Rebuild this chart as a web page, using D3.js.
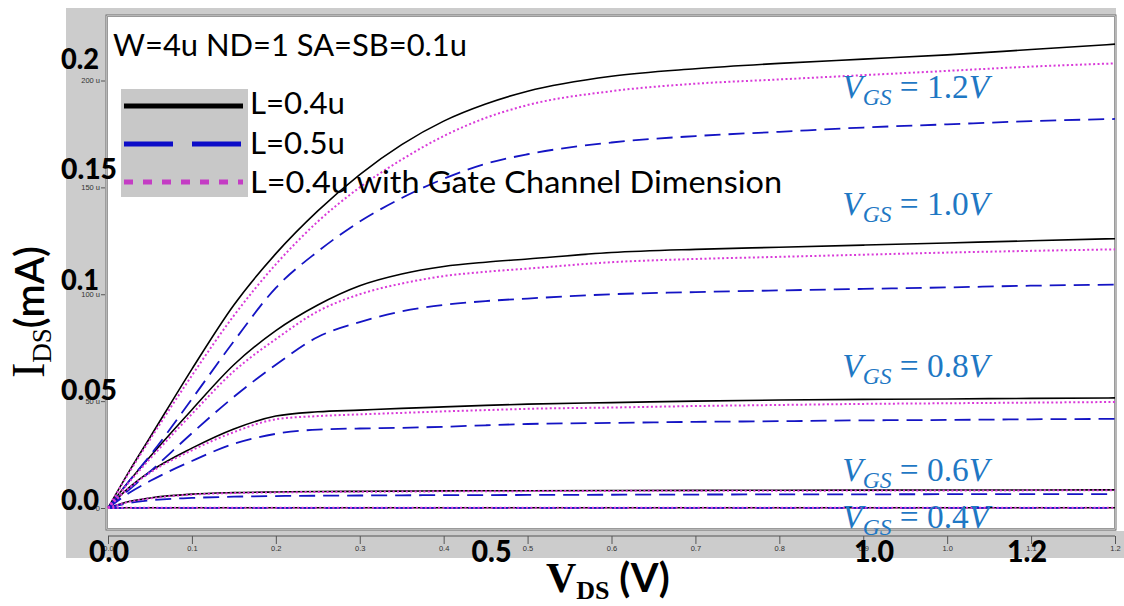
<!DOCTYPE html>
<html>
<head>
<meta charset="utf-8">
<script src="https://cdn.jsdelivr.net/npm/d3@7"></script>
<style>
  html, body { margin: 0; padding: 0; background: #ffffff; }
  svg { display: block; }
</style>
</head>
<body>
<svg id="chart" width="1124" height="606"></svg>
<script>
// Drain voltage sweep (V)
const vds = [0, 0.025, 0.05, 0.1, 0.15, 0.2, 0.25, 0.3, 0.35, 0.4, 0.45, 0.5, 0.6, 0.7, 0.8, 0.9, 1.0, 1.1, 1.2];

// Gate voltages (V)
const vgsLevels = [1.2, 1.0, 0.8, 0.6, 0.4];

// Drain current (uA), L = 0.4u
const idsL04_12 = [0, 17, 33, 65, 95, 119, 139, 156, 170, 181, 189, 195, 202, 205.5, 208, 210, 212, 214.5, 217];
const idsL04_10 = [0, 12.5, 24, 46, 67, 83, 95, 104, 109.5, 113, 115, 116.5, 119.5, 121, 122, 123, 124, 125, 126];
const idsL04_08 = [0, 9.5, 17, 28, 37, 43, 45, 45.8, 46.6, 47.3, 48, 48.6, 49.3, 50, 50.5, 50.8, 51, 51.3, 51.5];
const idsL04_06 = [0, 3, 4.7, 6.5, 7.2, 7.5, 7.7, 7.8, 7.9, 8, 8.05, 8.1, 8.2, 8.25, 8.3, 8.35, 8.4, 8.45, 8.5];
const idsL04_04 = [0, 0.1, 0.1, 0.1, 0.1, 0.1, 0.1, 0.1, 0.1, 0.1, 0.1, 0.1, 0.1, 0.1, 0.1, 0.1, 0.1, 0.1, 0.1];

// Drain current (uA), L = 0.5u
const idsL05_12 = [0, 12.5, 24.5, 51, 78, 103, 120, 134, 145, 154, 161, 165.5, 171, 174, 176, 178, 179.5, 181, 182];
const idsL05_10 = [0, 8.5, 17, 35, 52, 67, 80, 87, 92, 95, 96.8, 98, 100, 101, 101.8, 102.5, 103.2, 104, 104.5];
const idsL05_08 = [0, 7, 12.6, 22, 30, 34.7, 36.7, 37.2, 37.5, 38, 38.7, 39.3, 39.8, 40.3, 40.6, 41, 41.2, 41.5, 41.7];
const idsL05_06 = [0, 2.3, 3.6, 4.7, 5.3, 5.6, 5.75, 5.85, 5.95, 6.0, 6.05, 6.1, 6.2, 6.3, 6.35, 6.4, 6.45, 6.5, 6.5];
const idsL05_04 = [0, 0.1, 0.1, 0.1, 0.1, 0.1, 0.1, 0.1, 0.1, 0.1, 0.1, 0.1, 0.1, 0.1, 0.1, 0.1, 0.1, 0.1, 0.1];

// Drain current (uA), L = 0.4u with gate channel dimension
const idsGcd_12 = [0, 16.5, 32, 62, 90, 114, 134, 150, 163, 174, 182.5, 188.5, 195, 198.5, 200.5, 202.5, 204.5, 206.5, 208];
const idsGcd_10 = [0, 12, 23, 44, 64, 79, 92, 100, 105, 108.5, 110.5, 112, 115, 116.5, 117.5, 118.5, 119.5, 120.3, 121];
const idsGcd_08 = [0, 9.3, 16.5, 27, 35.5, 41.5, 43, 43.8, 44.5, 45.2, 45.8, 46.4, 47, 47.7, 48.2, 48.7, 49, 49.3, 49.6];
const idsGcd_06 = [0, 2.9, 4.5, 6.3, 7.0, 7.3, 7.5, 7.6, 7.7, 7.8, 7.85, 7.9, 8.0, 8.05, 8.1, 8.15, 8.2, 8.25, 8.3];
const idsGcd_04 = [0, 0.1, 0.1, 0.1, 0.1, 0.1, 0.1, 0.1, 0.1, 0.1, 0.1, 0.1, 0.1, 0.1, 0.1, 0.1, 0.1, 0.1, 0.1];

// Legend entries
const legendLabels = ["L=0.4u", "L=0.5u", "L=0.4u with Gate Channel Dimension"];

// Axis tick labels
const yTickValues = [0, 50, 100, 150, 200];           // uA
const yBigLabels = ["0.0", "0.05", "0.1", "0.15", "0.2"]; // mA
const yBigValues = [0, 0.05, 0.1, 0.15, 0.2];
const xBigLabels = ["0.0", "0.5", "1.0", "1.2"];
const xBigValues = [0, 0.5, 1.0, 1.2];

// Annotation anchors (current level in uA of each V_GS caption baseline)
const vgsCaptionIds = [192, 137, 61.3, 12.6, -9.4];

// ---------------------------------------------------------------------
const svg = d3.select("#chart");

const plot = { left: 106, top: 15, right: 1116, bottom: 530 };

const x = d3.scaleLinear().domain([0, 1.2]).range([108, 1115]);
const y = d3.scaleLinear().domain([0, 200]).range([508, 80.5]);

// gray panel behind the plot
svg.append("rect").attr("x", 66).attr("y", 8).attr("width", 1050).attr("height", 550).attr("fill", "#cccccc");
svg.append("rect").attr("x", 66).attr("y", 531).attr("width", 1058).attr("height", 27).attr("fill", "#cccccc");

// plot area with a double frame
svg.append("rect")
  .attr("x", plot.left).attr("y", plot.top)
  .attr("width", plot.right - plot.left).attr("height", plot.bottom - plot.top)
  .attr("fill", "#ffffff").attr("stroke", "#6e6e6e").attr("stroke-width", 1);
svg.append("rect")
  .attr("x", plot.left + 1.5).attr("y", plot.top + 1.5)
  .attr("width", plot.right - plot.left - 3).attr("height", plot.bottom - plot.top - 3)
  .attr("fill", "none").attr("stroke", "#9a9a9a").attr("stroke-width", 1);

// small axis ticks (simulator style)
const yAxis = d3.axisLeft(y).tickValues(yTickValues).tickSize(4).tickPadding(1)
  .tickFormat(d => d === 0 ? "0" : d + " u");
const gy = svg.append("g").attr("transform", `translate(${plot.left - 1},0)`).call(yAxis);
gy.select(".domain").remove();
gy.selectAll("text").attr("font-family", "Liberation Sans, Arial, sans-serif").attr("font-size", 7.5).attr("fill", "#333");
gy.selectAll("line").attr("stroke", "#555");

const xAxis = d3.axisBottom(x).ticks(12).tickSize(8).tickPadding(2).tickFormat(d3.format(".1f"));
const gx = svg.append("g").attr("transform", "translate(0,536)").call(xAxis);
gx.select(".domain").attr("stroke", "#555").attr("d", `M${x(0)},0H${x(1.2)}`);
gx.selectAll("line").attr("stroke", "#555");
gx.selectAll("text").attr("font-family", "Liberation Sans, Arial, sans-serif").attr("font-size", 7.5).attr("fill", "#333");

// curves
const seriesL04 = [idsL04_12, idsL04_10, idsL04_08, idsL04_06, idsL04_04];
const seriesL05 = [idsL05_12, idsL05_10, idsL05_08, idsL05_06, idsL05_04];
const seriesGcd = [idsGcd_12, idsGcd_10, idsGcd_08, idsGcd_06, idsGcd_04];

const styles = [
  { data: seriesL04, color: "#000000", width: 1.6, dash: null },
  { data: seriesL05, color: "#1414c4", width: 1.8, dash: "16,8" },
  { data: seriesGcd, color: "#d93ad9", width: 2, dash: "2,2.4" }
];

const line = d3.line().x(d => x(d[0])).y(d => y(d[1])).curve(d3.curveMonotoneX);

const curves = svg.append("g");
styles.forEach(s => {
  s.data.forEach(ids => {
    curves.append("path")
      .datum(vds.map((v, i) => [v, ids[i]]))
      .attr("d", line)
      .attr("fill", "none")
      .attr("stroke", s.color)
      .attr("stroke-width", s.width)
      .attr("stroke-dasharray", s.dash);
  });
});

// V_GS captions
const caption = svg.append("g").attr("fill", "#1f78c4");
vgsLevels.forEach((v, i) => {
  const t = caption.append("text")
    .attr("x", x(0.875)).attr("y", y(vgsCaptionIds[i]))
    .attr("font-family", "Liberation Serif, 'DejaVu Serif', serif")
    .attr("font-size", 34)
    .attr("textLength", 147).attr("lengthAdjust", "spacingAndGlyphs");
  t.append("tspan").attr("font-style", "italic").text("V");
  t.append("tspan").attr("font-style", "italic").attr("font-size", 24).attr("dy", 7).text("GS");
  t.append("tspan").attr("dy", -7).text(" = " + v.toFixed(1));
  t.append("tspan").attr("font-style", "italic").text("V");
});

// header text
svg.append("text")
  .attr("x", 113).attr("y", 56)
  .attr("font-family", "Lato, 'Open Sans', sans-serif").attr("font-size", 31)
  .attr("textLength", 354).attr("lengthAdjust", "spacingAndGlyphs")
  .text("W=4u ND=1 SA=SB=0.1u");

// legend
const lg = svg.append("g");
lg.append("rect").attr("x", 121).attr("y", 89).attr("width", 127).attr("height", 108).attr("fill", "#c8c8c8");
const legendStyles = [
  { color: "#000000", dash: null },
  { color: "#0c0cc8", dash: "49,19" },
  { color: "#c43cc4", dash: "9,10" }
];
legendLabels.forEach((lab, i) => {
  const ly = 106 + i * 38;
  lg.append("line")
    .attr("x1", 124).attr("x2", 243).attr("y1", ly).attr("y2", ly)
    .attr("stroke", legendStyles[i].color).attr("stroke-width", 5)
    .attr("stroke-dasharray", legendStyles[i].dash);
});
const legendWidths = [95, 95, 532];
legendLabels.forEach((lab, i) => {
  lg.append("text")
    .attr("x", 250).attr("y", 114 + i * 39.5)
    .attr("font-family", "Lato, 'Open Sans', sans-serif").attr("font-size", 31)
    .attr("textLength", legendWidths[i]).attr("lengthAdjust", "spacingAndGlyphs")
    .text(lab);
});

// large axis numbers (mA, V)
const bigWidth = s => s.length > 3 ? 56 : 38;
const yBig = d3.scaleLinear().domain([0, 0.2]).range([510, 69]);
yBigValues.forEach((v, i) => {
  svg.append("text")
    .attr("x", 61).attr("y", yBig(v))
    .attr("font-family", "Lato, 'Open Sans', sans-serif").attr("font-weight", 900).attr("font-size", 28)
    .attr("textLength", bigWidth(yBigLabels[i])).attr("lengthAdjust", "spacingAndGlyphs")
    .text(yBigLabels[i]);
});
const xBig = d3.scaleLinear().domain([0, 1.2]).range([109, 1027]);
xBigValues.forEach((v, i) => {
  svg.append("text")
    .attr("x", xBig(v)).attr("y", 562).attr("text-anchor", "middle")
    .attr("font-family", "Lato, 'Open Sans', sans-serif").attr("font-weight", 900).attr("font-size", 30)
    .attr("textLength", 40).attr("lengthAdjust", "spacingAndGlyphs")
    .text(xBigLabels[i]);
});

// axis titles
const xt = svg.append("text").attr("x", 546).attr("y", 592).attr("fill", "#000");
xt.append("tspan").attr("font-family", "Liberation Serif, serif").attr("font-weight", 700).attr("font-size", 42).text("V");
xt.append("tspan").attr("font-family", "Liberation Serif, serif").attr("font-weight", 700).attr("font-size", 26).attr("dy", 7).text("DS");
xt.append("tspan").attr("font-family", "Lato, sans-serif").attr("font-weight", 700).attr("font-size", 40).attr("dy", -7).text(" (V)");

const yt = svg.append("text").attr("transform", "translate(44,378) rotate(-90)").attr("fill", "#000");
yt.append("tspan").attr("font-family", "Liberation Serif, serif").attr("font-size", 46).text("I");
yt.append("tspan").attr("font-family", "Liberation Serif, serif").attr("font-size", 27).attr("dy", 7).text("DS");
yt.append("tspan").attr("font-family", "Lato, sans-serif").attr("font-weight", 600).attr("font-size", 40).attr("dy", -7).text("(mA)");
</script>
</body>
</html>
